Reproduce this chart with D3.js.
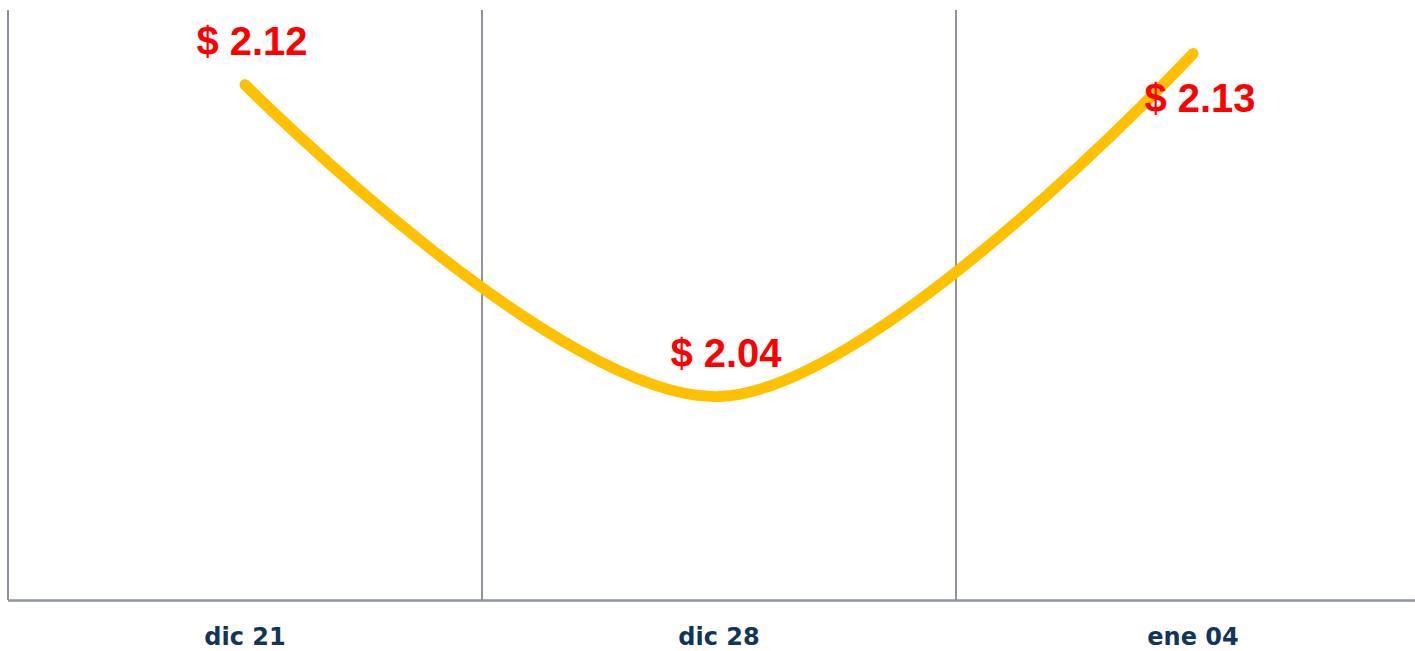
<!DOCTYPE html>
<html>
<head>
<meta charset="utf-8">
<script src="https://cdn.jsdelivr.net/npm/d3@7"></script>
<style>
  html, body { margin: 0; padding: 0; background: #ffffff; }
  svg { display: block; }
</style>
</head>
<body>
<svg id="chart" width="1415" height="651"></svg>
<script>
// Data
const categories = ["dic 21", "dic 28", "ene 04"];
const prices = [2.121, 2.0405, 2.129];
const labelAbove = [true, true, false];

const W = 1415, H = 651;
const svg = d3.select("#chart");

const x = d3.scaleBand().domain(categories).range([8, 1430]).padding(0);
const y = d3.scaleLinear().domain([1.988, 2.14]).range([600, 11]);

const gridColor = "#8E949E";

// Vertical gridlines at category boundaries
const bounds = categories.map(c => x(c));
svg.append("g").selectAll("line").data(bounds).join("line")
  .attr("x1", d => d).attr("x2", d => d)
  .attr("y1", y.range()[1] - 1).attr("y2", 600)
  .attr("stroke", gridColor).attr("stroke-width", 2);

// Bottom axis line
svg.append("line")
  .attr("x1", 8).attr("x2", W)
  .attr("y1", 600.5).attr("y2", 600.5)
  .attr("stroke", gridColor).attr("stroke-width", 2.5);

// Category labels
const xAxis = d3.axisBottom(x).tickSize(0).tickPadding(0);
const gx = svg.append("g").attr("transform", "translate(0,600)").call(xAxis);
gx.select(".domain").remove();
gx.selectAll("text")
  .attr("y", 45)
  .attr("dy", 0)
  .attr("font-family", "'DejaVu Sans', sans-serif")
  .attr("font-weight", "bold")
  .attr("font-size", 24)
  .attr("fill", "#123659");

// Line
const pts = categories.map((c, i) => [x(c) + x.bandwidth() / 2, y(prices[i])]);
const line = d3.line().curve(d3.curveCardinal.tension(0));
svg.append("path")
  .attr("d", line(pts))
  .attr("fill", "none")
  .attr("stroke", "#FFC000")
  .attr("stroke-width", 11)
  .attr("stroke-linecap", "round")
  .attr("stroke-linejoin", "round");

// Value labels
const fmt = d3.format(".2f");
svg.append("g").selectAll("text").data(categories).join("text")
  .attr("x", (c, i) => pts[i][0] + 7)
  .attr("y", (c, i) => pts[i][1] + (labelAbove[i] ? -30 : 58))
  .attr("text-anchor", "middle")
  .attr("font-family", "'Liberation Sans', Arial, sans-serif")
  .attr("font-weight", "bold")
  .attr("font-size", 40)
  .attr("fill", "#FF0000")
  .text((c, i) => "$ " + fmt(prices[i]));
</script>
</body>
</html>
